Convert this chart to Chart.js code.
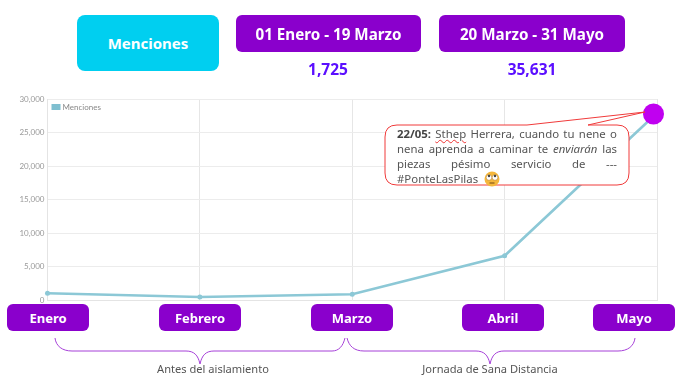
<!DOCTYPE html>
<html>
<head>
<meta charset="utf-8">
<script src="https://cdn.jsdelivr.net/npm/chart.js@4"></script>
<style>
  html, body { margin: 0; padding: 0; background: #fff; }
  #wrap { position: relative; width: 680px; height: 377px; overflow: hidden; font-family: "Noto Sans", sans-serif; }
  #chart { position: absolute; left: 0; top: 0; }
  .box { position: absolute; display: flex; align-items: center; justify-content: center; color: #fff; font-weight: 700; background: #8a00cc; border-radius: 6px; }
  .total { position: absolute; top: 58px; width: 186px; text-align: center; color: #5b0fff; font-weight: 700; font-size: 15.5px; line-height: 22px; }
  .note { position: absolute; top: 361px; width: 240px; text-align: center; color: #555; font-size: 11.1px; line-height: 16px; }
  #over { position: absolute; left: 0; top: 0; }
  #tweet { position: absolute; left: 397px; top: 126px; width: 220px; color: #555; font-size: 11.4px; line-height: 15px; text-align: justify; }
  #tweet b { color: #444; }
  #tweet u { text-decoration: underline wavy #e33 1px; }
  #tweet svg { vertical-align: -4px; margin-left: 3px; }
</style>
</head>
<body>
<div id="wrap">
  <canvas id="chart" width="680" height="377"></canvas>
  <svg id="over" width="680" height="377" fill="none">
    <path d="M55 338 C56 346 62 351 72 351 L186 351 C194 351 198 355 200 364 C202 355 206 351 214 351 L332 351 C339 351 343 346 345 338" stroke="#a640d8" stroke-width="1"/>
    <path d="M347 338 C349 346 354 351 364 351 L476 351 C484 351 488 355 490 364 C492 355 496 351 504 351 L618 351 C628 351 634 346 635 338" stroke="#a640d8" stroke-width="1"/>
    <circle cx="653.5" cy="114" r="10.5" fill="#c000f0"/>
    <path d="M397 125 L527 125 L645 112 L588 125 L617 125 Q629 125 629 137 L629 173 Q629 185 617 185 L397 185 Q385 185 385 173 L385 137 Q385 125 397 125 Z" fill="#fff" stroke="#f03a3a" stroke-width="1"/>
  </svg>
  <div class="box" style="left:77px;top:15px;width:142px;height:56px;border-radius:8px;background:#00cff0;font-size:15px">Menciones</div>
  <div class="box" style="left:236px;top:15px;width:185px;height:37px;font-size:15.2px">01 Enero - 19 Marzo</div>
  <div class="box" style="left:439px;top:15px;width:186px;height:37px;font-size:15.2px">20 Marzo - 31 Mayo</div>
  <div class="total" style="left:235px">1,725</div>
  <div class="total" style="left:439px">35,631</div>
  <div class="box" style="left:7px;top:304px;width:82px;height:27px;font-size:13px">Enero</div>
  <div class="box" style="left:159px;top:304px;width:82px;height:27px;font-size:13px">Febrero</div>
  <div class="box" style="left:311px;top:304px;width:82px;height:27px;font-size:13px">Marzo</div>
  <div class="box" style="left:462px;top:304px;width:82px;height:27px;font-size:13px">Abril</div>
  <div class="box" style="left:593px;top:304px;width:82px;height:27px;font-size:13px">Mayo</div>
  <div class="note" style="left:93px">Antes del aislamiento</div>
  <div class="note" style="left:370px">Jornada de Sana Distancia</div>
  <div id="tweet"><b>22/05:</b> <u>Sthep</u> Herrera, cuando tu nene o nena aprenda a caminar te <i>enviarán</i> las piezas pésimo servicio de --- #PonteLasPilas <svg width="16" height="16" viewBox="0 0 16 16"><circle cx="8" cy="8" r="7.5" fill="#f5b73c"/><circle cx="5" cy="6.5" r="2.8" fill="#fff" stroke="#a8742a" stroke-width=".5"/><circle cx="11" cy="6.5" r="2.8" fill="#fff" stroke="#a8742a" stroke-width=".5"/><circle cx="5" cy="5" r="1.2" fill="#444"/><circle cx="11" cy="5" r="1.2" fill="#444"/><path d="M5.5 12 H10.5" stroke="#8a5a1a" stroke-width="1.2"/></svg></div>
</div>
<script>
var months = ['Enero', 'Febrero', 'Marzo', 'Abril', 'Mayo'];
var menciones = [1000, 450, 850, 6600, 27900];

var chart_menciones = new Chart(document.getElementById('chart'), {
    type: 'line',
    data: {
        labels: months,
        datasets: [
            {
                label: 'Menciones',
                data: menciones,
                borderColor: '#8cc8d6',
                backgroundColor: '#7fbfd0',
                borderWidth: 2.6,
                pointRadius: 2.5,
                pointBackgroundColor: '#8cc8d6',
                pointBorderWidth: 0,
                tension: 0,
                fill: false
            }
        ]
    },
    options: {
        animation: false,
        responsive: false,
        layout: { padding: { left: 0, right: 23, top: 99, bottom: 77 } },
        plugins: {
            title: { display: false },
            tooltip: { enabled: false },
            legend: { display: false }
        },
        scales: {
            x: {
                afterFit: function (scale) { scale.height = 0; },
                border: { color: '#e4e4e4' },
                grid: { color: '#e6e6e6', drawTicks: false },
                ticks: { display: false }
            },
            y: {
                min: 0,
                max: 30000,
                afterFit: function (scale) { scale.width = 47.5; },
                border: { color: '#e4e4e4' },
                grid: { color: '#ececec', drawTicks: false },
                ticks: {
                    stepSize: 5000,
                    padding: 3,
                    color: '#999',
                    font: { family: 'Lato', size: 8 },
                    callback: function (v) { return v.toLocaleString('en-US'); }
                }
            }
        }
    },
    plugins: [{
        // legend sits inside the plot, top left
        id: 'insideLegend',
        afterDatasetsDraw: (chart) => {
            const ctx = chart.ctx;
            const area = chart.chartArea;
            const ds = chart.data.datasets[0];
            ctx.save();
            ctx.fillStyle = ds.backgroundColor;
            ctx.fillRect(area.left + 4, area.top + 5, 9, 6);
            ctx.fillStyle = '#888';
            ctx.font = '8px Lato';
            ctx.textBaseline = 'middle';
            ctx.fillText(ds.label, area.left + 15, area.top + 8);
            ctx.restore();
        }
    }]
});
</script>
</body>
</html>
